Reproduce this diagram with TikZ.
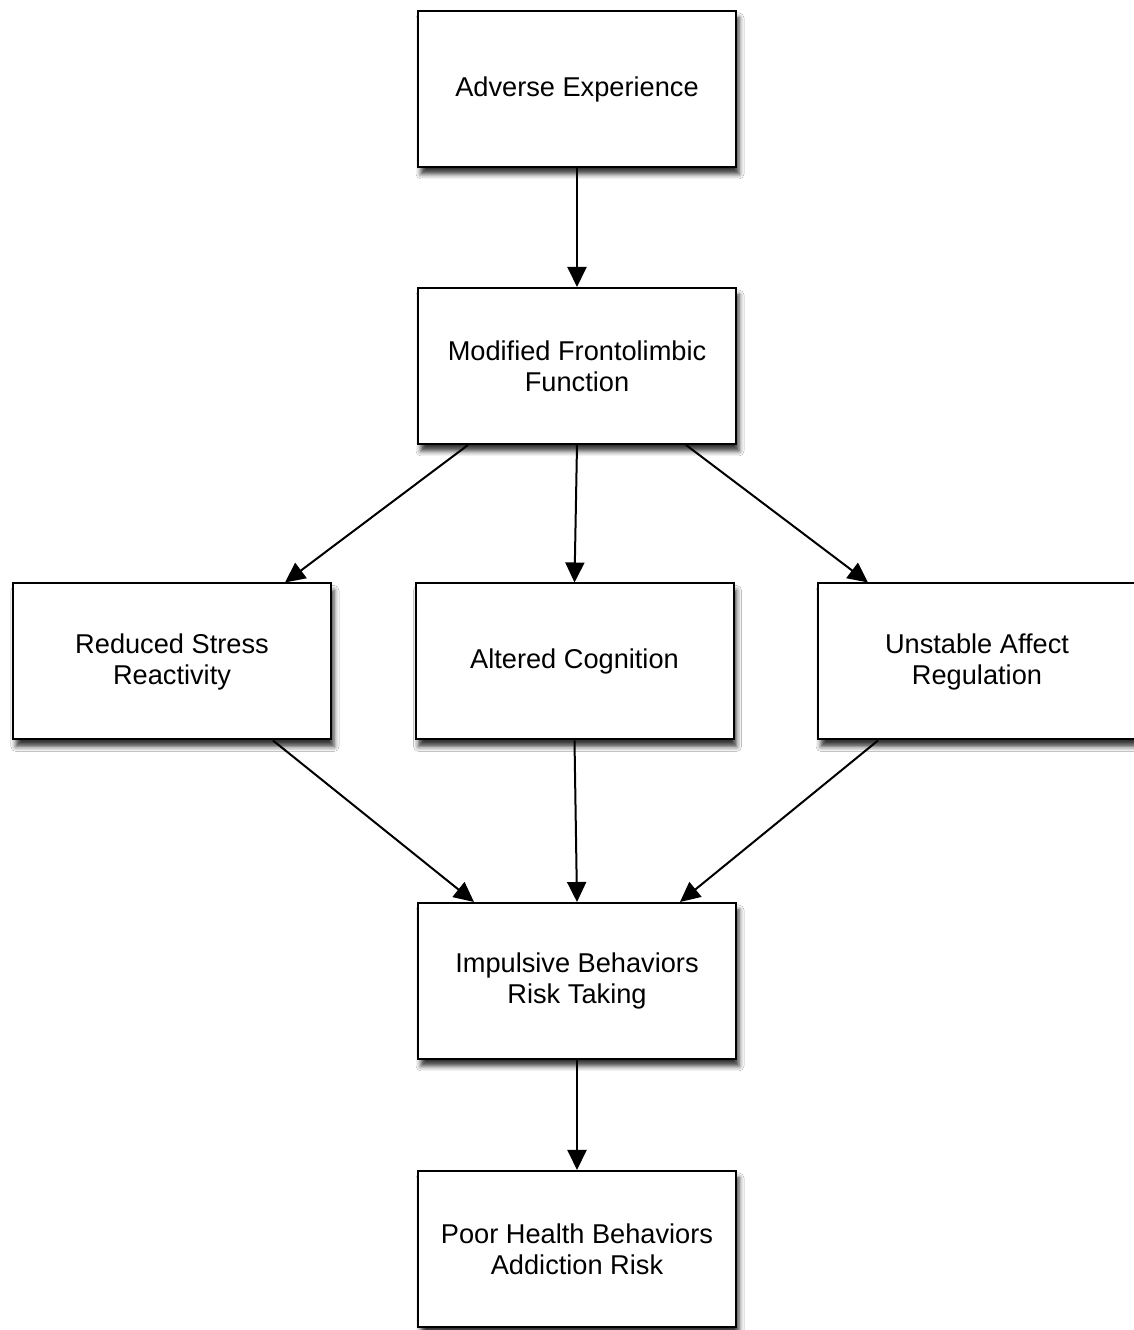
\documentclass[tikz,border=0pt]{standalone}
\usepackage{fontspec}
\setmainfont{Liberation Sans}
\usetikzlibrary{arrows.meta,shadows.blur}
\tikzset{
  flowbox/.style={draw=black, line width=2pt, fill=white, minimum width=318pt, minimum height=156pt,
    inner sep=0pt, align=center, font=\fontsize{27.2}{31}\selectfont,
    blur shadow={shadow xshift=3pt, shadow yshift=-7pt, shadow blur radius=5pt, shadow opacity=80}},
  flowarrow/.style={draw=black, line width=2pt, -{Triangle[length=20pt,width=19pt]}}
}
\begin{document}
\begin{tikzpicture}[x=1pt,y=1pt]
\useasboundingbox (0,0) rectangle (1134,1330);
\fill[white] (0,0) rectangle (1134,1330);
\clip (0,0) rectangle (1134,1330);
\node[flowbox] (adv) at (577,1241) {\raisebox{-2pt}{Adverse Experience}};
\node[flowbox] (mod) at (577,964) {Modified Frontolimbic\\Function};
\node[flowbox] (red) at (172,668.5) {Reduced Stress\\Reactivity};
\node[flowbox] (alt) at (574.5,668.5) {\raisebox{-2pt}{Altered Cognition}};
\node[flowbox] (uns) at (977,668.5) {Unstable Affect\\Regulation};
\node[flowbox] (imp) at (577,349) {Impulsive Behaviors\\Risk Taking};
\node[flowbox] (poor) at (577,81) {Poor Health Behaviors\\Addiction Risk};
\draw[flowarrow] (adv.south) -- (mod.north);
\draw[flowarrow] ([xshift=-109pt]mod.south) -- ([xshift=113pt]red.north);
\draw[flowarrow] (mod.south) -- (alt.north);
\draw[flowarrow] ([xshift=109pt]mod.south) -- ([xshift=-109pt]uns.north);
\draw[flowarrow] ([xshift=101pt]red.south) -- ([xshift=-103pt]imp.north);
\draw[flowarrow] (alt.south) -- (imp.north);
\draw[flowarrow] ([xshift=-99pt]uns.south) -- ([xshift=103pt]imp.north);
\draw[flowarrow] (imp.south) -- (poor.north);
\end{tikzpicture}
\end{document}
